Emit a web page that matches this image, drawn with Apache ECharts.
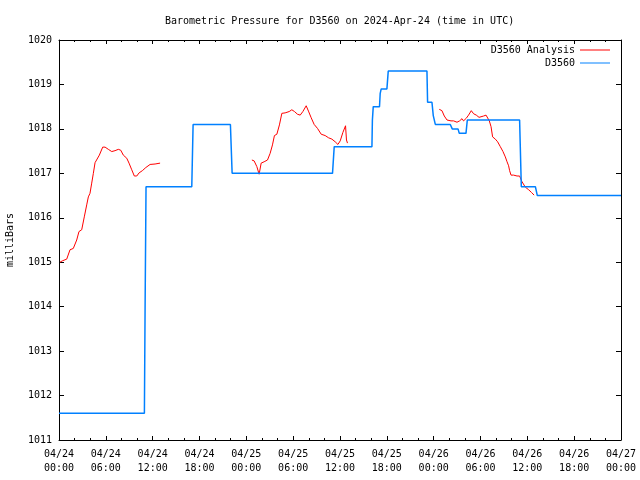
<!DOCTYPE html>
<html>
<head>
<meta charset="utf-8">
<script src="https://cdn.jsdelivr.net/npm/echarts@6/dist/echarts.min.js"></script>
<style>html,body{margin:0;padding:0;background:#fff}#c{width:640px;height:480px}</style>
</head>
<body>
<div id="c"></div>
<script>
// Hours since 2024-04-24 00:00 UTC
const xTickDays = ['04/24','04/24','04/24','04/24','04/25','04/25','04/25','04/25','04/26','04/26','04/26','04/26','04/27'];
const xTickTimes = ['00:00','06:00','12:00','18:00','00:00','06:00','12:00','18:00','00:00','06:00','12:00','18:00','00:00'];

// D3560 Analysis (red) — segments separated by null
const analysisHours = [
  0.13,0.42,0.99,1.41,1.83,2.27,2.56,2.91,3.24,3.55,3.76,3.97,4.19,4.4,4.62,4.83,5.17,5.6,5.9,6.32,6.76,7.18,7.6,7.91,8.24,8.68,8.97,9.32,9.65,9.96,10.26,10.68,11.12,11.67,12.31,12.95,
  18.0,
  24.71,25.0,25.35,25.64,25.9,26.28,26.71,27.05,27.35,27.6,27.91,28.24,28.55,28.97,29.49,29.83,30.17,30.55,30.9,31.24,31.67,31.96,32.31,32.69,33.12,33.59,34.1,34.53,34.96,35.38,35.73,36.03,36.37,36.71,36.83,36.96,
  42.0,
  48.72,49.06,49.36,49.71,50.22,50.55,50.99,51.32,51.63,51.83,52.18,52.47,52.82,53.12,53.46,53.81,54.06,54.4,54.71,54.96,55.13,55.35,55.55,55.9,56.19,56.54,56.88,57.18,57.4,57.6,57.73,57.91,58.24,58.68,59.01,59.32,59.74,60.17,60.53,60.87
];
const analysisValues = [
  1015.0,1015.03,1015.07,1015.28,1015.31,1015.5,1015.69,1015.73,1016.02,1016.29,1016.47,1016.55,1016.78,1017.0,1017.24,1017.26,1017.41,1017.59,1017.59,1017.54,1017.49,1017.51,1017.54,1017.52,1017.41,1017.34,1017.23,1017.08,1016.94,1016.94,1017.01,1017.06,1017.13,1017.2,1017.21,1017.23,
  null,
  1017.3,1017.28,1017.15,1016.98,1017.23,1017.26,1017.3,1017.45,1017.64,1017.85,1017.88,1018.09,1018.35,1018.36,1018.39,1018.43,1018.39,1018.33,1018.31,1018.39,1018.52,1018.4,1018.25,1018.1,1018.01,1017.88,1017.85,1017.8,1017.77,1017.71,1017.65,1017.73,1017.92,1018.07,1017.75,1017.68,
  null,
  1018.44,1018.41,1018.29,1018.2,1018.18,1018.18,1018.15,1018.18,1018.23,1018.18,1018.24,1018.31,1018.41,1018.34,1018.31,1018.26,1018.29,1018.29,1018.31,1018.27,1018.18,1018.05,1017.82,1017.77,1017.71,1017.6,1017.49,1017.37,1017.26,1017.17,1017.06,1016.96,1016.96,1016.94,1016.94,1016.81,1016.69,1016.63,1016.57,1016.51
];

// D3560 observations (blue)
const obsHours = [0,10.94,11.03,11.15,17.01,17.18,21.96,22.18,35.04,35.26,40.09,40.15,40.26,41.06,41.15,41.28,42.01,42.18,47.14,47.22,47.78,47.95,48.21,50.13,50.38,51.12,51.28,52.14,52.31,59.01,59.23,61.03,61.28,72];
const obsValues = [1011.6,1011.6,1014.0,1016.7,1016.7,1018.1,1018.1,1017.0,1017.0,1017.6,1017.6,1018.2,1018.5,1018.5,1018.8,1018.9,1018.9,1019.3,1019.3,1018.6,1018.6,1018.3,1018.1,1018.1,1018.0,1018.0,1017.9,1017.9,1018.2,1018.2,1016.7,1016.7,1016.5,1016.5];

const yTicks = [1011,1012,1013,1014,1015,1016,1017,1018,1019,1020];

const FONT = 'DejaVu Sans Mono';
const chart = echarts.init(document.getElementById('c'), null, {renderer:'canvas'});
const pair = (xs, ys) => xs.map((x,i) => [x, ys[i]]);

const baseX = {
  type:'value', min:0, max:72, interval:6,
  axisLine:{show:true, onZero:false, lineStyle:{color:'#000', width:1}},
  axisTick:{show:true, inside:true, length:4, lineStyle:{color:'#000'}},
  minorTick:{show:true, splitNumber:3, length:2, lineStyle:{color:'#000'}},
  splitLine:{show:false}
};
const baseY = {
  type:'value', min:yTicks[0], max:yTicks[yTicks.length-1], interval:1,
  axisLine:{show:true, onZero:false, lineStyle:{color:'#000', width:1}},
  axisTick:{show:true, inside:true, length:5, lineStyle:{color:'#000'}},
  splitLine:{show:false}
};

chart.setOption({
  animation:false,
  backgroundColor:'#fff',
  textStyle:{fontFamily:FONT},
  title:{
    text:'Barometric Pressure for D3560 on 2024-Apr-24 (time in UTC)',
    left:160, top:11,
    textStyle:{fontFamily:FONT, fontSize:10, fontWeight:'normal', color:'#000'}
  },
  legend:{
    orient:'vertical', right:25, top:40, align:'right', itemGap:3,
    itemWidth:30, itemHeight:11,
    textStyle:{fontFamily:FONT, fontSize:10, color:'#000'},
    data:[
      {name:'D3560 Analysis', icon:'path://M0,5 L30,5 L30,6 L0,6 Z'},
      {name:'D3560', icon:'path://M0,5 L30,5 L30,6 L0,6 Z'}
    ]
  },
  grid:{left:59, right:19, top:40, bottom:40, containLabel:false, outerBoundsMode:'none'},
  xAxis:[
    Object.assign({}, baseX, {
      position:'bottom',
      axisLabel:{
        show:true, margin:7, color:'#000', fontFamily:FONT, fontSize:10, lineHeight:14,
        formatter:(v) => { const i = Math.round(v/6); return xTickDays[i] + '\n' + xTickTimes[i]; }
      }
    }),
    Object.assign({}, baseX, {position:'top', axisLabel:{show:false}})
  ],
  yAxis:[
    Object.assign({}, baseY, {
      position:'left',
      name:'milliBars', nameLocation:'middle', nameGap:44, nameRotate:90,
      nameTextStyle:{fontFamily:FONT, fontSize:10, color:'#000'},
      axisLabel:{show:true, margin:7, color:'#000', fontFamily:FONT, fontSize:10,
        formatter:(v) => String(Math.round(v))}
    }),
    Object.assign({}, baseY, {position:'right', axisLabel:{show:false}})
  ],
  series:[
    {
      name:'D3560 Analysis', type:'line', xAxisIndex:0, yAxisIndex:0,
      data:pair(analysisHours, analysisValues),
      showSymbol:false, symbol:'none', connectNulls:false,
      itemStyle:{color:'#ff0000'},
      lineStyle:{color:'#ff0000', width:1}
    },
    {
      name:'D3560', type:'line', xAxisIndex:0, yAxisIndex:0,
      data:pair(obsHours, obsValues),
      showSymbol:false, symbol:'none',
      itemStyle:{color:'#0080ff'},
      lineStyle:{color:'#0080ff', width:1.5}
    }
  ]
});
</script>
</body>
</html>
